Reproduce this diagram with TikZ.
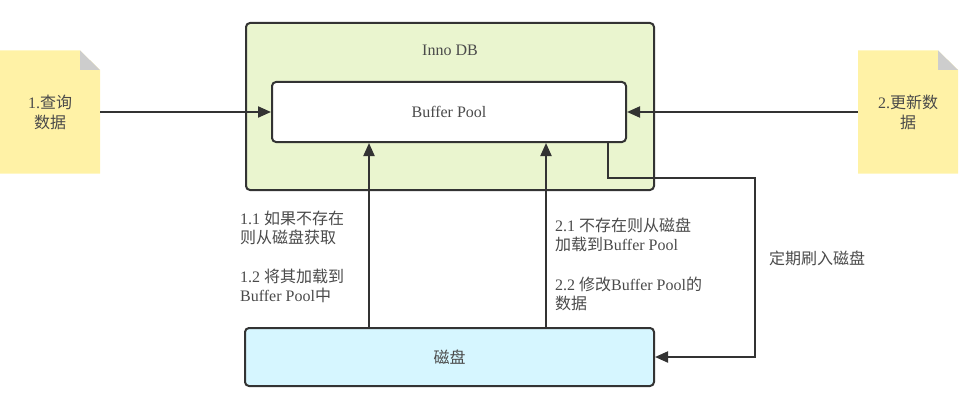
\documentclass[tikz,border=0pt]{standalone}
\usepackage{fontspec}
\setmainfont{Liberation Serif}
\newfontfamily\cjk{Noto Sans CJK SC}
\usetikzlibrary{arrows.meta}
\newcommand\zh[1]{{\cjk #1}}
\definecolor{lc}{HTML}{333333}
\definecolor{tc}{HTML}{4A4A4A}
\definecolor{notefill}{HTML}{FFF2A6}
\definecolor{foldgray}{HTML}{CDCDCD}
\definecolor{innofill}{HTML}{EAF5CF}
\definecolor{diskfill}{HTML}{D6F6FF}
\begin{document}
\begin{tikzpicture}[x=1pt,y=-1pt,
  box/.style={draw=lc, line width=2pt, rounded corners=4pt, inner sep=0pt, text=tc, font=\fontsize{16}{19}\selectfont},
  arr/.style={draw=lc, line width=2pt, -{Triangle[length=13pt,width=11pt]}},
  plain/.style={draw=lc, line width=2pt},
  lbl/.style={text=tc, font=\fontsize{16}{19}\selectfont, align=left, inner sep=0pt, anchor=west},
  notetext/.style={text=tc, font=\fontsize{16}{20}\selectfont, align=center, inner sep=0pt, minimum width=100pt, minimum height=123pt}]
\useasboundingbox (0,0) rectangle (965,401);
% notes (shapes)
\fill[notefill] (0,50.5) -- (80,50.5) -- (100,70) -- (100,173.5) -- (0,173.5) -- cycle;
\fill[foldgray] (80,50.5) -- (80,70) -- (100,70) -- cycle;
\fill[notefill] (858,50.5) -- (938,50.5) -- (958,70) -- (958,173.5) -- (858,173.5) -- cycle;
\fill[foldgray] (938,50.5) -- (938,70) -- (958,70) -- cycle;
\node[notetext] (n1) at (50,112) {1.\zh{查询}\\\zh{数据}};
\node[notetext] (n2) at (908,112) {2.\zh{更新数}\\\zh{据}};
% boxes
\node[box, fill=innofill, minimum width=408pt, minimum height=167pt] (inno) at (450,106.5) {};
\node[text=tc, font=\fontsize{16}{19}\selectfont, inner sep=0pt] (innol) at (450,50) {Inno DB};
\node[box, fill=white, minimum width=354pt, minimum height=60pt] (bp) at (449,112) {Buffer Pool};
\node[box, fill=diskfill, minimum width=409pt, minimum height=58pt] (disk) at (449.5,357) {\zh{磁盘}};
% helper coordinates
\coordinate (a1) at (369,0);
\coordinate (a2) at (546,0);
\coordinate (fc) at (755,178);
% connectors
\draw[arr] (n1) -- (bp);
\draw[arr] (n2) -- (bp);
\draw[arr] (disk.north -| a1) -- (bp.south -| a1);
\draw[arr] (disk.north -| a2) -- (bp.south -| a2);
\draw[arr] ([xshift=-19pt]bp.south east) |- (fc) |- (disk.east);
% labels
\node[lbl] (l11) at (240,227.5) {1.1 \zh{如果不存在}\\\zh{则从磁盘获取}};
\node[lbl] (l12) at (240,286) {1.2 \zh{将其加载到}\\Buffer Pool\zh{中}};
\node[lbl] (l21) at (555,235) {2.1 \zh{不存在则从磁盘}\\\zh{加载到}Buffer Pool};
\node[lbl] (l22) at (555,293.5) {2.2 \zh{修改}Buffer Pool\zh{的}\\\zh{数据}};
\node[lbl] (lf) at (769,258) {\zh{定期刷入磁盘}};
\end{tikzpicture}
\end{document}
